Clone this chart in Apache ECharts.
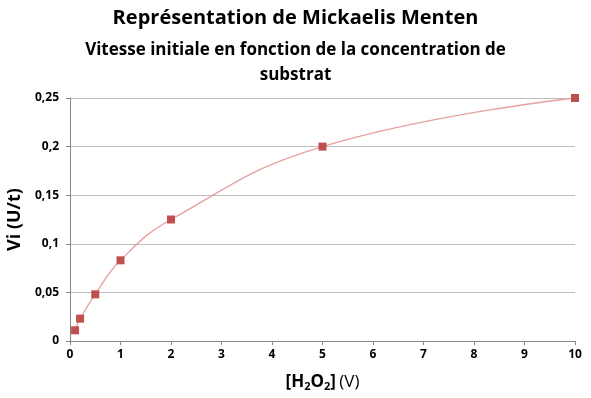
<!DOCTYPE html>
<html>
<head>
<meta charset="utf-8">
<script src="https://cdn.jsdelivr.net/npm/echarts@6/dist/echarts.min.js"></script>
<style>
  html, body { margin: 0; padding: 0; background: #fff; }
  #chart { width: 591px; height: 398px; }
</style>
</head>
<body>
<div id="chart"></div>
<script>
// concentration en H2O2 et vitesse initiale
var concentrations = [0.1, 0.2, 0.5, 1, 2, 5, 10];
var vitesses = [0.011, 0.023, 0.048, 0.083, 0.125, 0.2, 0.25];
var xTicks = [0, 1, 2, 3, 4, 5, 6, 7, 8, 9, 10];
var yTicks = [0, 0.05, 0.1, 0.15, 0.2, 0.25];

var points = concentrations.map(function(c, i){ return [c, vitesses[i]]; });
var font = 'Open Sans';

var chart = echarts.init(document.getElementById('chart'));
chart.setOption({
  animation: false,
  title: [
    {
      text: 'Représentation de Mickaelis Menten',
      left: 'center', top: 3,
      textStyle: { fontFamily: font, fontSize: 20, fontWeight: 'bold', color: '#000' }
    },
    {
      text: 'Vitesse initiale en fonction de la concentration de\nsubstrat',
      left: 'center', top: 33,
      textStyle: { fontFamily: font, fontSize: 17, fontWeight: 'bold', color: '#000', lineHeight: 25, align: 'center' }
    }
  ],
  grid: { left: 70, right: 16, top: 98, bottom: 57, outerBoundsMode: 'none' },
  xAxis: {
    type: 'value', min: 0, max: 10, interval: 1,
    name: '{b|[H}{sub|2}{b|O}{sub|2}{b|]} {n|(V)}',
    nameLocation: 'middle', nameGap: 32,
    nameTextStyle: {
      rich: {
        b: { fontFamily: font, fontSize: 17, fontWeight: 'bold', color: '#000' },
        n: { fontFamily: font, fontSize: 17, color: '#000' },
        sub: { fontFamily: font, fontSize: 11, fontWeight: 'bold', color: '#000', padding: [8, 0, 0, 0] }
      }
    },
    axisLine: { lineStyle: { color: '#868686' } },
    axisTick: { length: 4, lineStyle: { color: '#868686' } },
    splitLine: { show: false },
    axisLabel: { fontFamily: font, fontSize: 12, fontWeight: 'bold', color: '#000', margin: 8 }
  },
  yAxis: {
    type: 'value', min: 0, max: 0.25, interval: 0.05,
    name: 'Vi (U/t)', nameLocation: 'middle', nameGap: 41, nameRotate: 90,
    nameTextStyle: { fontFamily: font, fontSize: 18, fontWeight: 'bold', color: '#000' },
    axisLine: { show: true, lineStyle: { color: '#868686' } },
    axisTick: { show: true, length: 4, lineStyle: { color: '#868686' } },
    splitLine: { lineStyle: { color: '#bfbfbf' } },
    axisLabel: { fontFamily: font, fontSize: 12, fontWeight: 'bold', color: '#000', margin: 11,
      formatter: function(v){ return String(+v.toFixed(2)).replace('.', ','); } }
  },
  series: [{
    type: 'line',
    data: points,
    smooth: 0.45,
    symbol: 'rect',
    symbolSize: 8,
    itemStyle: { color: '#c0504d' },
    lineStyle: { color: '#e6a09e', width: 1.3 }
  }]
});
</script>
</body>
</html>
